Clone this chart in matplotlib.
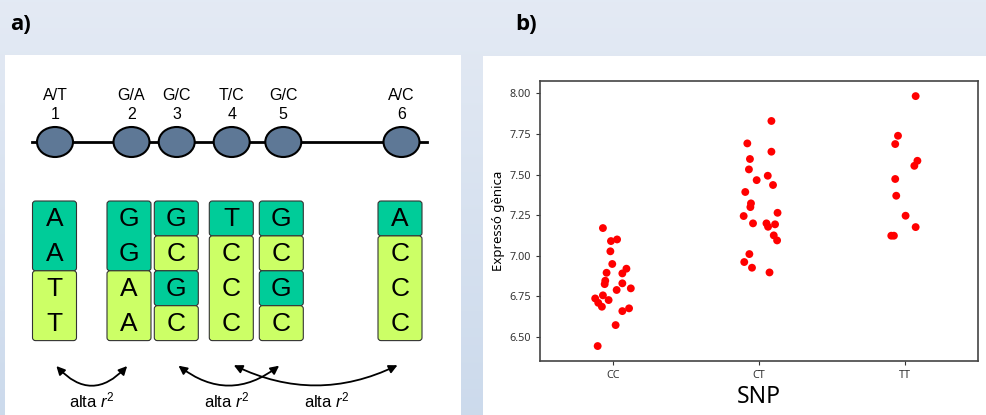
"""
Two panels: a) SNP haplotype / LD diagram, b) expression by genotype strip plot.
Outputs: out.png
"""

import matplotlib
matplotlib.use("Agg")

import matplotlib.pyplot as plt
from matplotlib.patches import FancyBboxPatch, Ellipse, FancyArrowPatch, Rectangle
import numpy as np

plt.rcParams["mathtext.fontset"] = "custom"
plt.rcParams["mathtext.rm"] = "Liberation Sans"
plt.rcParams["mathtext.it"] = "Liberation Sans:italic"

# ---------------------------------------------------------------------------
# Data
# ---------------------------------------------------------------------------
snp_alleles = ["A/T", "G/A", "G/C", "T/C", "G/C", "A/C"]
snp_numbers = ["1", "2", "3", "4", "5", "6"]
# four haplotypes, one string per SNP column (top to bottom)
haplotypes = ["AATT", "GGAA", "GCGC", "TCCC", "GCGC", "ACCC"]
minor_alleles = ["A", "G", "G", "T", "G", "A"]   # shown in dark green
ld_pairs = [(0, 1), (2, 4), (3, 5)]
ld_label = "alta $r^2$"

genotypes = ["CC", "CT", "TT"]
expr_cc = [7.171, 7.091, 7.101, 7.028, 6.950, 6.896, 6.892, 6.921, 6.847,
           6.826, 6.831, 6.790, 6.800, 6.757, 6.738, 6.728, 6.711, 6.687,
           6.660, 6.677, 6.574, 6.445]
jit_cc = [-0.069, -0.014, 0.028, -0.018, -0.005, -0.044, 0.064, 0.092,
          -0.053, -0.057, 0.064, 0.025, 0.122, -0.069, -0.122, -0.030,
          -0.101, -0.076, 0.064, 0.110, 0.018, -0.105]
expr_ct = [7.830, 7.692, 7.641, 7.596, 7.532, 7.466, 7.493, 7.436, 7.393,
           7.323, 7.300, 7.245, 7.265, 7.200, 7.200, 7.179, 7.194, 7.126,
           7.095, 7.011, 6.962, 6.927, 6.898]
jit_ct = [0.085, -0.080, 0.085, -0.062, -0.069, -0.016, 0.060, 0.096,
          -0.094, -0.055, -0.059, -0.105, 0.127, -0.041, 0.051, 0.062,
          0.110, 0.101, 0.124, -0.066, -0.101, -0.048, 0.072]
expr_tt = [7.983, 7.739, 7.688, 7.585, 7.554, 7.473, 7.370, 7.247, 7.177,
           7.124, 7.124]
jit_tt = [0.073, -0.048, -0.067, 0.085, 0.064, -0.067, -0.060, 0.004,
          0.073, -0.094, -0.076]
y_ticks = [6.50, 6.75, 7.00, 7.25, 7.50, 7.75, 8.00]

# ---------------------------------------------------------------------------
# Colours
# ---------------------------------------------------------------------------
CLR_DARK = "#00CC99"
CLR_LIGHT = "#CCFF66"
CLR_SNP = "#5E7896"
CLR_DOT = "#FF0000"

W, H = 987, 415
fig = plt.figure(figsize=(W / 100, H / 100), dpi=100)

# full-figure canvas in pixel units
bg = fig.add_axes([0, 0, 1, 1])
bg.set_xlim(0, W)
bg.set_ylim(H, 0)
bg.axis("off")

grad = np.linspace(0, 1, 256).reshape(-1, 1)
top = np.array([0.894, 0.918, 0.957])
bot = np.array([0.800, 0.855, 0.925])
img = top + (bot - top) * grad[..., None]
bg.imshow(img, extent=(0, W, H, 0), aspect="auto", zorder=0)

bg.add_patch(Rectangle((5, 55), 456, H - 55, facecolor="white",
                       edgecolor="none", zorder=1))
bg.add_patch(Rectangle((483, 56), W - 483, H - 56, facecolor="white",
                       edgecolor="none", zorder=1))

bg.text(10, 25, "a)", fontsize=16, weight="bold", family="Open Sans",
        ha="left", va="center", zorder=5)
bg.text(515, 25, "b)", fontsize=16, weight="bold", family="Open Sans",
        ha="left", va="center", zorder=5)

# ---------------------------------------------------------------------------
# Panel a: SNP line
# ---------------------------------------------------------------------------
snp_x = [55, 131.5, 176.7, 231.7, 283.3, 401.5]
col_x = [54.5, 129, 176.3, 231.3, 281.3, 400]
bg.plot([32, 427], [142, 142], color="black", lw=2, zorder=2)
for i, cx in enumerate(snp_x):
    bg.add_patch(Ellipse((cx, 142), 36, 30, facecolor=CLR_SNP,
                         edgecolor="black", lw=1.5, zorder=3))
    bg.text(cx, 95, snp_alleles[i], fontsize=11.5, family="Liberation Sans",
            ha="center", va="center", zorder=3)
    bg.text(cx, 114, snp_numbers[i], fontsize=11.5, family="Liberation Sans",
            ha="center", va="center", zorder=3)

# haplotype columns: merge consecutive equal cells into one box
box_w = 44
row_h = 34.9
rows_top = 201
for i, cx in enumerate(col_x):
    hap = haplotypes[i]
    j = 0
    while j < len(hap):
        k = j
        while k + 1 < len(hap) and hap[k + 1] == hap[j]:
            k += 1
        clr = CLR_DARK if hap[j] == minor_alleles[i] else CLR_LIGHT
        y0 = rows_top + j * row_h
        hgt = (k - j + 1) * row_h
        bg.add_patch(FancyBboxPatch((cx - box_w / 2 + 3, y0 + 3), box_w - 6, hgt - 6,
                                    boxstyle="round,pad=3", facecolor=clr,
                                    edgecolor="#333333", lw=0.8, zorder=2))
        j = k + 1
    for r, ch in enumerate(hap):
        bg.text(cx, rows_top + (r + 0.5) * row_h + 1, ch, fontsize=19,
                family="Liberation Sans", ha="center", va="center", zorder=3)

# LD arrows
for (a, b) in ld_pairs:
    xa, xb = col_x[a], col_x[b]
    d = xb - xa
    rad = 42 / d
    arr = FancyArrowPatch((xa, 364), (xb, 364),
                          connectionstyle="arc3,rad=%.3f" % rad,
                          arrowstyle="<|-|>,head_length=5,head_width=2.5",
                          color="black", lw=1.3, zorder=3)
    bg.add_patch(arr)

label_x = [91.7, 226.7, 326.7]
for lx in label_x:
    bg.text(lx, 400, ld_label, fontsize=12, family="Liberation Sans",
            ha="center", va="center", zorder=3)

# ---------------------------------------------------------------------------
# Panel b: strip plot
# ---------------------------------------------------------------------------
ax = fig.add_axes([540 / W, (H - 361) / H, (978 - 540) / W, (361 - 81) / H])
ax.set_zorder(4)
groups = [(expr_cc, jit_cc), (expr_ct, jit_ct), (expr_tt, jit_tt)]
for gi, (vals, jit) in enumerate(groups):
    xs = gi + np.array(jit)
    ax.scatter(xs, vals, s=32, color=CLR_DOT, edgecolors="none", zorder=3)

ax.set_xlim(-0.5, 2.5)
ax.set_ylim(6.353, 8.076)
ax.set_xticks(range(len(genotypes)))
ax.set_xticklabels(genotypes)
ax.set_yticks(y_ticks)
ax.set_yticklabels(["%.2f" % v for v in y_ticks])
ax.tick_params(axis="both", labelsize=7.8, colors="#333333", length=3, width=0.8)
for lab in ax.get_xticklabels() + ax.get_yticklabels():
    lab.set_family("Noto Sans")
for sp in ax.spines.values():
    sp.set_color("#444444")
    sp.set_linewidth(1.2)
ax.set_xlabel("SNP", fontsize=16.5, family="Noto Sans", labelpad=3)
ax.set_ylabel("Expressó gènica", fontsize=9.5, family="Noto Sans", labelpad=3)

fig.savefig("out.png", dpi=100, facecolor="white")
plt.close(fig)
